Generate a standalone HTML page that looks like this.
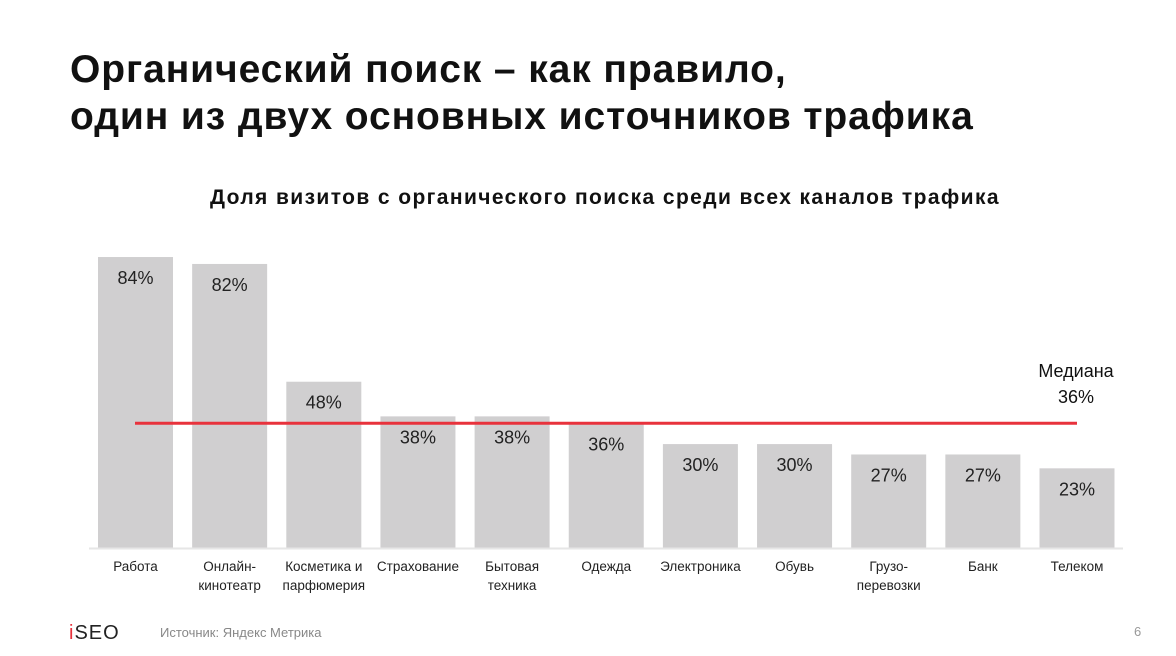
<!DOCTYPE html>
<html><head><meta charset="utf-8"><style>
html,body{margin:0;padding:0;background:#fff;}
body{width:1176px;height:656px;position:relative;overflow:hidden;font-family:"Liberation Sans","Noto Sans CJK SC",sans-serif;}
.t{position:absolute;left:70px;top:46px;font-size:39px;font-weight:bold;line-height:47px;color:#111;letter-spacing:0.9px;}
.st{position:absolute;left:0;width:1176px;top:186px;text-align:center;font-size:21px;font-weight:bold;color:#111;padding-left:34px;box-sizing:border-box;letter-spacing:1.4px;}
</style></head><body>
<div class="t">Органический поиск – как правило,<br>один из двух основных источников трафика</div>
<div class="st">Доля визитов с органического поиска среди всех каналов трафика</div>
<svg id="chart" width="1176" height="656" style="position:absolute;left:0;top:0"></svg>
<script>
const categories=[["Работа"],["Онлайн-","кинотеатр"],["Косметика и","парфюмерия"],["Страхование"],["Бытовая","техника"],["Одежда"],["Электроника"],["Обувь"],["Грузо-","перевозки"],["Банк"],["Телеком"]];
const values=[84,82,48,38,38,36,30,30,27,27,23];
const labels=["84%","82%","48%","38%","38%","36%","30%","30%","27%","27%","23%"];
const median=[36];
const medianLabel=["Медиана","36%"];
const NS="http://www.w3.org/2000/svg";
const svg=document.getElementById('chart');
const base=548, perPct=3.464, x0=98, step=94.15, bw=75;
const y=v=>base-v*perPct;
const x=i=>x0+i*step;
function mk(t,a){const e=document.createElementNS(NS,t);for(const k in a)e.setAttribute(k,a[k]);svg.appendChild(e);return e;}
values.forEach((v,i)=>{
  const r=mk('rect',{x:x(i),y:y(v),width:bw,height:v*perPct,fill:'#d0cfd0'});
  
  
  const t=mk('text',{x:x(i)+bw/2,y:y(v)+27,'text-anchor':'middle','font-size':18,fill:'#222'});
  t.textContent=labels[i];
  
  
  categories[i].forEach((c,j)=>{
    const l=mk('text',{x:x(i)+bw/2,y:571+j*19,'text-anchor':'middle','font-size':13.5,fill:'#222'});
    l.textContent=c;
    
    
  });
});
const ax=mk('line',{x1:89,y1:base+0.5,x2:1123,y2:base+0.5,stroke:'#e6e6e6','stroke-width':2});


const ml=mk('line',{x1:135,y1:y(median[0]),x2:1077,y2:y(median[0]),stroke:'#e8323c','stroke-width':3});


medianLabel.forEach((s,j)=>{
  const t=mk('text',{x:1076,y:377+j*26,'text-anchor':'middle','font-size':18,fill:'#111'});
  t.textContent=s;
  
  
});
</script>
<div style="position:absolute;left:69px;top:622px;font-size:20px;letter-spacing:1px;color:#222;font-weight:normal"><span style="color:#e8323c">i</span>SEO</div>
<div style="position:absolute;left:160px;top:625px;font-size:13px;color:#888">Источник: Яндекс Метрика</div>
<div style="position:absolute;left:1134px;top:624px;font-size:13px;color:#999">6</div>
</body></html>
